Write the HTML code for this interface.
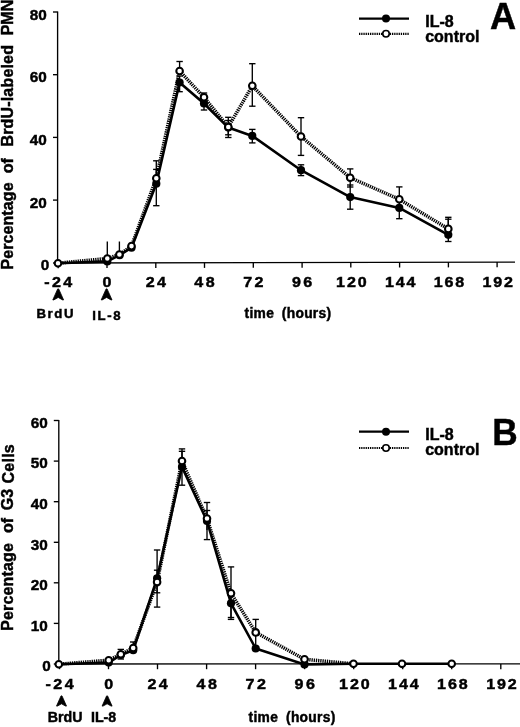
<!DOCTYPE html>
<html><head><meta charset="utf-8"><title>Figure</title>
<style>
html,body{margin:0;padding:0;background:#fff;}
body{width:520px;height:727px;overflow:hidden;font-family:"Liberation Sans",sans-serif;}
svg{display:block;filter:blur(0.35px)}
text{font-family:"Liberation Sans",sans-serif;font-weight:bold;fill:#000;stroke:#000;stroke-width:0.45}
.ax{stroke:#000;stroke-width:1.35;fill:none}
.e{stroke:#000;stroke-width:1.35;fill:none}
.s{stroke:#000;stroke-width:2.6;fill:none;stroke-linejoin:round}
.d{stroke:#000;stroke-width:3.5;fill:none;stroke-dasharray:1.3 0.9;stroke-linejoin:round}
.o{fill:#fff;stroke:#000;stroke-width:2.05}
</style></head><body>
<svg width="520" height="727" viewBox="0 0 520 727">
<rect width="520" height="727" fill="#fff"/>
<g id="A">
<line x1="57.6" y1="11.5" x2="57.6" y2="263.0" class="ax"/>
<line x1="57.6" y1="263.0" x2="515" y2="262.1" class="ax"/>
<line x1="53.0" y1="12" x2="57.6" y2="12" class="ax"/>
<text x="46.8" y="19.5" font-size="15.3" text-anchor="end">80</text>
<line x1="53.0" y1="74.7" x2="57.6" y2="74.7" class="ax"/>
<text x="46.8" y="82.2" font-size="15.3" text-anchor="end">60</text>
<line x1="53.0" y1="137.4" x2="57.6" y2="137.4" class="ax"/>
<text x="46.8" y="144.9" font-size="15.3" text-anchor="end">40</text>
<line x1="53.0" y1="200.1" x2="57.6" y2="200.1" class="ax"/>
<text x="46.8" y="207.6" font-size="15.3" text-anchor="end">20</text>
<line x1="53.0" y1="263.0" x2="57.6" y2="263.0" class="ax"/>
<text x="49.2" y="270.4" font-size="15.3" text-anchor="end">0</text>
<line x1="58.2" y1="263.0" x2="58.2" y2="268.2" class="ax"/>
<text transform="translate(59.4 286.7) scale(1.1 1)" font-size="14.6" text-anchor="middle" letter-spacing="2.2">-24</text>
<line x1="107.0" y1="262.9" x2="107.0" y2="268.1" class="ax"/>
<text transform="translate(108.2 286.7) scale(1.1 1)" font-size="14.6" text-anchor="middle" letter-spacing="2.2">0</text>
<line x1="155.8" y1="262.8" x2="155.8" y2="268.0" class="ax"/>
<text transform="translate(157.0 286.7) scale(1.1 1)" font-size="14.6" text-anchor="middle" letter-spacing="2.2">24</text>
<line x1="204.5" y1="262.7" x2="204.5" y2="267.9" class="ax"/>
<text transform="translate(205.7 286.7) scale(1.1 1)" font-size="14.6" text-anchor="middle" letter-spacing="2.2">48</text>
<line x1="253.3" y1="262.6" x2="253.3" y2="267.8" class="ax"/>
<text transform="translate(254.5 286.7) scale(1.1 1)" font-size="14.6" text-anchor="middle" letter-spacing="2.2">72</text>
<line x1="302.1" y1="262.5" x2="302.1" y2="267.7" class="ax"/>
<text transform="translate(303.3 286.7) scale(1.1 1)" font-size="14.6" text-anchor="middle" letter-spacing="2.2">96</text>
<line x1="350.8" y1="262.4" x2="350.8" y2="267.6" class="ax"/>
<text transform="translate(352.3 286.7) scale(1.1 1)" font-size="14.6" text-anchor="middle" letter-spacing="1.7">120</text>
<line x1="399.6" y1="262.3" x2="399.6" y2="267.5" class="ax"/>
<text transform="translate(401.1 286.7) scale(1.1 1)" font-size="14.6" text-anchor="middle" letter-spacing="1.7">144</text>
<line x1="448.4" y1="262.2" x2="448.4" y2="267.4" class="ax"/>
<text transform="translate(449.9 286.7) scale(1.1 1)" font-size="14.6" text-anchor="middle" letter-spacing="1.7">168</text>
<line x1="497.1" y1="262.1" x2="497.1" y2="267.3" class="ax"/>
<text transform="translate(498.6 286.7) scale(1.1 1)" font-size="14.6" text-anchor="middle" letter-spacing="1.7">192</text>
<polyline class="d" points="58,263.2 107.3,258.5 119.4,254.5 131.5,246.1 156.3,178.3 179.6,71 204,97.3 228.3,127 252.3,85.8 301,136.5 350.2,177.7 399.3,199.3 448.3,228.9"/>
<polyline class="s" points="58,263.3 107.3,261.4 119.6,255.2 131.5,247.7 156.3,183.7 179.6,82.5 204,103.5 228.3,127.6 252.3,135.9 301,170.2 350.2,197.1 399.3,207.9 448.3,234.8"/>
<line x1="107.3" y1="241.5" x2="107.3" y2="262" class="e"/><line x1="119.4" y1="241.5" x2="119.4" y2="255" class="e"/><line x1="156.3" y1="160.8" x2="156.3" y2="178" class="e"/><line x1="153.10000000000002" y1="160.8" x2="159.5" y2="160.8" class="e"/><line x1="156.3" y1="169.4" x2="156.3" y2="205.7" class="e"/><line x1="153.10000000000002" y1="169.4" x2="159.5" y2="169.4" class="e"/><line x1="153.10000000000002" y1="205.7" x2="159.5" y2="205.7" class="e"/><line x1="179.6" y1="61.5" x2="179.6" y2="71" class="e"/><line x1="176.4" y1="61.5" x2="182.79999999999998" y2="61.5" class="e"/><line x1="179.6" y1="76" x2="179.6" y2="91.7" class="e"/><line x1="176.4" y1="76" x2="182.79999999999998" y2="76" class="e"/><line x1="176.4" y1="91.7" x2="182.79999999999998" y2="91.7" class="e"/><line x1="204" y1="93" x2="204" y2="97" class="e"/><line x1="200.8" y1="93" x2="207.2" y2="93" class="e"/><line x1="204" y1="98" x2="204" y2="110" class="e"/><line x1="200.8" y1="98" x2="207.2" y2="98" class="e"/><line x1="200.8" y1="110" x2="207.2" y2="110" class="e"/><line x1="228.3" y1="117.3" x2="228.3" y2="137.5" class="e"/><line x1="225.10000000000002" y1="117.3" x2="231.5" y2="117.3" class="e"/><line x1="225.10000000000002" y1="137.5" x2="231.5" y2="137.5" class="e"/><line x1="228.3" y1="120.5" x2="228.3" y2="134.8" class="e"/><line x1="225.10000000000002" y1="120.5" x2="231.5" y2="120.5" class="e"/><line x1="225.10000000000002" y1="134.8" x2="231.5" y2="134.8" class="e"/><line x1="252.3" y1="63.7" x2="252.3" y2="106.2" class="e"/><line x1="249.10000000000002" y1="63.7" x2="255.5" y2="63.7" class="e"/><line x1="249.10000000000002" y1="106.2" x2="255.5" y2="106.2" class="e"/><line x1="252.3" y1="129.4" x2="252.3" y2="142.9" class="e"/><line x1="249.10000000000002" y1="129.4" x2="255.5" y2="129.4" class="e"/><line x1="249.10000000000002" y1="142.9" x2="255.5" y2="142.9" class="e"/><line x1="301" y1="117.7" x2="301" y2="155.4" class="e"/><line x1="297.8" y1="117.7" x2="304.2" y2="117.7" class="e"/><line x1="297.8" y1="155.4" x2="304.2" y2="155.4" class="e"/><line x1="301" y1="164.8" x2="301" y2="175.6" class="e"/><line x1="297.8" y1="164.8" x2="304.2" y2="164.8" class="e"/><line x1="297.8" y1="175.6" x2="304.2" y2="175.6" class="e"/><line x1="350.2" y1="168.9" x2="350.2" y2="187" class="e"/><line x1="347.0" y1="168.9" x2="353.4" y2="168.9" class="e"/><line x1="347.0" y1="187" x2="353.4" y2="187" class="e"/><line x1="350.2" y1="185" x2="350.2" y2="209.2" class="e"/><line x1="347.0" y1="185" x2="353.4" y2="185" class="e"/><line x1="347.0" y1="209.2" x2="353.4" y2="209.2" class="e"/><line x1="399.3" y1="186.9" x2="399.3" y2="199" class="e"/><line x1="396.1" y1="186.9" x2="402.5" y2="186.9" class="e"/><line x1="399.3" y1="197.5" x2="399.3" y2="218.7" class="e"/><line x1="396.1" y1="197.5" x2="402.5" y2="197.5" class="e"/><line x1="396.1" y1="218.7" x2="402.5" y2="218.7" class="e"/><line x1="448.3" y1="217.3" x2="448.3" y2="229" class="e"/><line x1="445.1" y1="217.3" x2="451.5" y2="217.3" class="e"/><line x1="448.3" y1="219.2" x2="448.3" y2="241.5" class="e"/><line x1="445.1" y1="219.2" x2="451.5" y2="219.2" class="e"/><line x1="445.1" y1="241.5" x2="451.5" y2="241.5" class="e"/>
<circle cx="107.3" cy="261.4" r="4.1" fill="#000"/>
<circle cx="119.6" cy="255.2" r="4.1" fill="#000"/>
<circle cx="131.5" cy="247.7" r="4.1" fill="#000"/>
<circle cx="156.3" cy="183.7" r="4.1" fill="#000"/>
<circle cx="179.6" cy="82.5" r="4.1" fill="#000"/>
<circle cx="204" cy="103.5" r="4.1" fill="#000"/>
<circle cx="228.3" cy="127.6" r="4.1" fill="#000"/>
<circle cx="252.3" cy="135.9" r="4.1" fill="#000"/>
<circle cx="301" cy="170.2" r="4.1" fill="#000"/>
<circle cx="350.2" cy="197.1" r="4.1" fill="#000"/>
<circle cx="399.3" cy="207.9" r="4.1" fill="#000"/>
<circle cx="448.3" cy="234.8" r="4.1" fill="#000"/>
<circle cx="58" cy="263.2" r="3.3" class="o"/>
<circle cx="107.3" cy="258.5" r="3.3" class="o"/>
<circle cx="119.4" cy="254.5" r="3.3" class="o"/>
<circle cx="131.5" cy="246.1" r="3.3" class="o"/>
<circle cx="156.3" cy="178.3" r="3.3" class="o"/>
<circle cx="179.6" cy="71" r="3.3" class="o"/>
<circle cx="204" cy="97.3" r="3.3" class="o"/>
<circle cx="228.3" cy="127" r="3.3" class="o"/>
<circle cx="252.3" cy="85.8" r="3.3" class="o"/>
<circle cx="301" cy="136.5" r="3.3" class="o"/>
<circle cx="350.2" cy="177.7" r="3.3" class="o"/>
<circle cx="399.3" cy="199.3" r="3.3" class="o"/>
<circle cx="448.3" cy="228.9" r="3.3" class="o"/>
<line x1="359" y1="18.6" x2="409" y2="18.6" class="s" style="stroke-width:2.2"/>
<circle cx="386" cy="18.6" r="4" fill="#000"/>
<line x1="359" y1="33.8" x2="409" y2="33.8" class="d" style="stroke-width:2.2"/>
<circle cx="386" cy="33.8" r="3.25" class="o" style="stroke-width:1.6"/>
<text x="425.2" y="27.2" font-size="16" text-anchor="start">IL-8</text>
<text x="425.2" y="41.6" font-size="16" text-anchor="start">control</text>
<text x="489.9" y="29.3" font-size="36.2" text-anchor="start">A</text>
<text x="244.6" y="317.6" font-size="13.8" text-anchor="start" letter-spacing="0.3">time</text>
<text x="281.8" y="317.6" font-size="13.8" text-anchor="start" letter-spacing="0.3">(hours)</text>
<path d="M57.70,288.90 L58.70,288.90 L63.60,299.92 L62.63,299.92 L58.20,297.43 L53.77,299.92 L52.80,299.92 Z" fill="#000" stroke="#000" stroke-width="0.8" stroke-linejoin="round"/>
<path d="M106.10,288.90 L107.10,288.90 L112.00,299.92 L111.03,299.92 L106.60,297.43 L102.17,299.92 L101.20,299.92 Z" fill="#000" stroke="#000" stroke-width="0.8" stroke-linejoin="round"/>
<text x="36.4" y="318.1" font-size="13.2" text-anchor="start" letter-spacing="1.65">BrdU</text>
<text x="92.3" y="319.6" font-size="13.2" text-anchor="start" letter-spacing="1.6">IL-8</text>
<text x="13.4" y="269.6" font-size="16" text-anchor="start" letter-spacing="0.1" transform="rotate(-90 13.4 269.6)">Percentage</text>
<text x="13.4" y="173.2" font-size="16" text-anchor="start" transform="rotate(-90 13.4 173.2)">of</text>
<text x="13.4" y="146.6" font-size="16" text-anchor="start" letter-spacing="0.18" transform="rotate(-90 13.4 146.6)">BrdU-labeled</text>
<text x="13.4" y="35.3" font-size="16" text-anchor="start" transform="rotate(-90 13.4 35.3)">PMN</text>
</g>
<g id="B">
<line x1="58.8" y1="420" x2="58.8" y2="664" class="ax"/>
<line x1="58.8" y1="664" x2="520" y2="663.8" class="ax"/>
<line x1="53.8" y1="664.0" x2="58.8" y2="664.0" class="ax"/>
<text x="50.8" y="671.3" font-size="15.3" text-anchor="end">0</text>
<line x1="53.8" y1="623.4" x2="58.8" y2="623.4" class="ax"/>
<text x="47.7" y="630.7" font-size="15.3" text-anchor="end">10</text>
<line x1="53.8" y1="582.8" x2="58.8" y2="582.8" class="ax"/>
<text x="47.7" y="590.1" font-size="15.3" text-anchor="end">20</text>
<line x1="53.8" y1="542.3" x2="58.8" y2="542.3" class="ax"/>
<text x="47.7" y="549.6" font-size="15.3" text-anchor="end">30</text>
<line x1="53.8" y1="501.7" x2="58.8" y2="501.7" class="ax"/>
<text x="47.7" y="509.0" font-size="15.3" text-anchor="end">40</text>
<line x1="53.8" y1="461.1" x2="58.8" y2="461.1" class="ax"/>
<text x="47.7" y="468.4" font-size="15.3" text-anchor="end">50</text>
<line x1="53.8" y1="420.5" x2="58.8" y2="420.5" class="ax"/>
<text x="47.7" y="427.8" font-size="15.3" text-anchor="end">60</text>
<line x1="59.5" y1="664" x2="59.5" y2="669.2" class="ax"/>
<text transform="translate(60.8 688.6) scale(1.1 1)" font-size="14.6" text-anchor="middle" letter-spacing="2.2">-24</text>
<line x1="108.5" y1="664" x2="108.5" y2="669.2" class="ax"/>
<text transform="translate(109.8 688.6) scale(1.1 1)" font-size="14.6" text-anchor="middle" letter-spacing="2.2">0</text>
<line x1="157.5" y1="664" x2="157.5" y2="669.2" class="ax"/>
<text transform="translate(158.8 688.6) scale(1.1 1)" font-size="14.6" text-anchor="middle" letter-spacing="2.2">24</text>
<line x1="206.6" y1="664" x2="206.6" y2="669.2" class="ax"/>
<text transform="translate(207.9 688.6) scale(1.1 1)" font-size="14.6" text-anchor="middle" letter-spacing="2.2">48</text>
<line x1="255.6" y1="664" x2="255.6" y2="669.2" class="ax"/>
<text transform="translate(256.9 688.6) scale(1.1 1)" font-size="14.6" text-anchor="middle" letter-spacing="2.2">72</text>
<line x1="304.6" y1="664" x2="304.6" y2="669.2" class="ax"/>
<text transform="translate(305.9 688.6) scale(1.1 1)" font-size="14.6" text-anchor="middle" letter-spacing="2.2">96</text>
<line x1="353.7" y1="664" x2="353.7" y2="669.2" class="ax"/>
<text transform="translate(355.3 688.6) scale(1.1 1)" font-size="14.6" text-anchor="middle" letter-spacing="1.7">120</text>
<line x1="402.7" y1="664" x2="402.7" y2="669.2" class="ax"/>
<text transform="translate(404.3 688.6) scale(1.1 1)" font-size="14.6" text-anchor="middle" letter-spacing="1.7">144</text>
<line x1="451.7" y1="664" x2="451.7" y2="669.2" class="ax"/>
<text transform="translate(453.3 688.6) scale(1.1 1)" font-size="14.6" text-anchor="middle" letter-spacing="1.7">168</text>
<line x1="500.8" y1="664" x2="500.8" y2="669.2" class="ax"/>
<text transform="translate(502.4 688.6) scale(1.1 1)" font-size="14.6" text-anchor="middle" letter-spacing="1.7">192</text>
<polyline class="d" points="58.8,664.2 108.7,660.2 120.8,654.2 133.2,648 157.1,582.1 182,461 207,518.6 231,593.3 255.7,632.4 304.5,659.3 353.5,663.8"/>
<polyline class="s" points="58.8,664.2 108.7,662.6 120.8,655 133.2,650.2 157.1,578.3 182,466.9 207,521 231,603.3 255.7,648.5 304.5,664.4 353.5,663.8 402,663.8 451.7,663.8"/>
<line x1="120.8" y1="649.4" x2="120.8" y2="659" class="e"/><line x1="117.6" y1="649.4" x2="124.0" y2="649.4" class="e"/><line x1="117.6" y1="659" x2="124.0" y2="659" class="e"/><line x1="133.2" y1="642" x2="133.2" y2="653" class="e"/><line x1="130.0" y1="642" x2="136.39999999999998" y2="642" class="e"/><line x1="157.1" y1="550" x2="157.1" y2="592.8" class="e"/><line x1="153.9" y1="550" x2="160.29999999999998" y2="550" class="e"/><line x1="153.9" y1="592.8" x2="160.29999999999998" y2="592.8" class="e"/><line x1="157.1" y1="570.2" x2="157.1" y2="607.1" class="e"/><line x1="153.9" y1="570.2" x2="160.29999999999998" y2="570.2" class="e"/><line x1="153.9" y1="607.1" x2="160.29999999999998" y2="607.1" class="e"/><line x1="182" y1="448.9" x2="182" y2="461" class="e"/><line x1="178.8" y1="448.9" x2="185.2" y2="448.9" class="e"/><line x1="182" y1="451.3" x2="182" y2="485.2" class="e"/><line x1="178.8" y1="451.3" x2="185.2" y2="451.3" class="e"/><line x1="178.8" y1="485.2" x2="185.2" y2="485.2" class="e"/><line x1="207" y1="502.5" x2="207" y2="539.6" class="e"/><line x1="203.8" y1="502.5" x2="210.2" y2="502.5" class="e"/><line x1="203.8" y1="539.6" x2="210.2" y2="539.6" class="e"/><line x1="207" y1="510.5" x2="207" y2="530" class="e"/><line x1="203.8" y1="510.5" x2="210.2" y2="510.5" class="e"/><line x1="231" y1="566.9" x2="231" y2="619.4" class="e"/><line x1="227.8" y1="566.9" x2="234.2" y2="566.9" class="e"/><line x1="227.8" y1="619.4" x2="234.2" y2="619.4" class="e"/><line x1="231" y1="590" x2="231" y2="617.5" class="e"/><line x1="227.8" y1="617.5" x2="234.2" y2="617.5" class="e"/><line x1="255.7" y1="619.4" x2="255.7" y2="648" class="e"/><line x1="252.5" y1="619.4" x2="258.9" y2="619.4" class="e"/>
<circle cx="108.7" cy="662.6" r="4.1" fill="#000"/>
<circle cx="120.8" cy="655" r="4.1" fill="#000"/>
<circle cx="133.2" cy="650.2" r="4.1" fill="#000"/>
<circle cx="157.1" cy="578.3" r="4.1" fill="#000"/>
<circle cx="182" cy="466.9" r="4.1" fill="#000"/>
<circle cx="207" cy="521" r="4.1" fill="#000"/>
<circle cx="231" cy="603.3" r="4.1" fill="#000"/>
<circle cx="255.7" cy="648.5" r="4.1" fill="#000"/>
<circle cx="304.5" cy="664.4" r="4.1" fill="#000"/>
<circle cx="58.8" cy="664.2" r="3.3" class="o"/>
<circle cx="108.7" cy="660.2" r="3.3" class="o"/>
<circle cx="120.8" cy="654.2" r="3.3" class="o"/>
<circle cx="133.2" cy="648" r="3.3" class="o"/>
<circle cx="157.1" cy="582.1" r="3.3" class="o"/>
<circle cx="182" cy="461" r="3.3" class="o"/>
<circle cx="207" cy="518.6" r="3.3" class="o"/>
<circle cx="231" cy="593.3" r="3.3" class="o"/>
<circle cx="255.7" cy="632.4" r="3.3" class="o"/>
<circle cx="304.5" cy="659.3" r="3.3" class="o"/>
<circle cx="353.5" cy="663.8" r="3.3" class="o"/>
<circle cx="402" cy="663.8" r="3.3" class="o"/>
<circle cx="451.7" cy="663.8" r="3.3" class="o"/>
<line x1="359" y1="431.7" x2="409" y2="431.7" class="s" style="stroke-width:2.2"/>
<circle cx="386" cy="431.7" r="4" fill="#000"/>
<line x1="359" y1="448" x2="409" y2="448" class="d" style="stroke-width:2.2"/>
<circle cx="386" cy="448" r="3.25" class="o" style="stroke-width:1.6"/>
<text x="425.2" y="440.3" font-size="16" text-anchor="start">IL-8</text>
<text x="425.2" y="454.9" font-size="16" text-anchor="start">control</text>
<text transform="translate(492.2 445) scale(0.94 1)" font-size="37.5">B</text>
<text x="248.6" y="722.2" font-size="13.8" text-anchor="start" letter-spacing="0.3">time</text>
<text x="286.0" y="722.2" font-size="13.8" text-anchor="start" letter-spacing="0.3">(hours)</text>
<path d="M61.00,695.90 L62.00,695.90 L66.50,706.10 L65.60,706.10 L61.50,703.80 L57.40,706.10 L56.50,706.10 Z" fill="#000" stroke="#000" stroke-width="0.8" stroke-linejoin="round"/>
<path d="M106.60,695.90 L107.60,695.90 L112.10,706.10 L111.20,706.10 L107.10,703.80 L103.00,706.10 L102.10,706.10 Z" fill="#000" stroke="#000" stroke-width="0.8" stroke-linejoin="round"/>
<text x="47.8" y="721.5" font-size="14.2" text-anchor="start">BrdU</text>
<text x="91.0" y="721.5" font-size="14.2" text-anchor="start">IL-8</text>
<text x="13.5" y="630.8" font-size="16" text-anchor="start" letter-spacing="0.15" transform="rotate(-90 13.5 630.8)">Percentage</text>
<text x="13.5" y="532.9" font-size="16" text-anchor="start" transform="rotate(-90 13.5 532.9)">of</text>
<text x="13.5" y="510.3" font-size="16" text-anchor="start" transform="rotate(-90 13.5 510.3)">G3</text>
<text x="13.5" y="483.5" font-size="16" text-anchor="start" letter-spacing="0.25" transform="rotate(-90 13.5 483.5)">Cells</text>
</g>
</svg>
</body></html>
